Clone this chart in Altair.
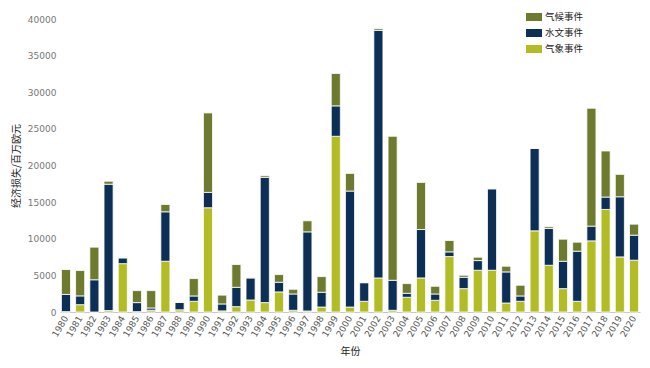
import altair as alt
import pandas as pd

years = list(range(1980, 2021))
meteo = [50, 1000, 0, 200, 6600, 50, 250, 6930, 300, 1460, 14230,
         150, 730, 1640, 1280, 2740, 230, 140, 680, 23990, 680,
         1460, 4650, 230, 2010, 4650, 1600, 7570, 3190, 5700, 5700,
         1230, 1460, 11080, 6380, 3190, 1460, 9710, 14000, 7520, 7070]
hydro = [2350, 1200, 4400, 17250, 800, 1230, 300, 6750, 1000, 730, 2100,
         950, 2640, 3010, 17100, 1320, 2230, 10800, 2010, 4150, 15830,
         2550, 33790, 4100, 540, 6610, 860, 640, 1550, 1320, 11130,
         4240, 730, 11260, 5020, 3740, 6840, 2010, 1690, 8210, 3420]
climate = [3400, 3460, 4450, 400, 0, 1640, 2370, 1000, 0, 2370, 10850,
           1200, 3110, 50, 220, 1050, 640, 1510, 2140, 4420, 2410,
           0, 230, 19660, 1330, 6430, 1050, 1550, 280, 460, 0,
           780, 1460, 0, 230, 3010, 1230, 16100, 6290, 3060, 1500]

series = ["气候事件", "水文事件", "气象事件"]
colors = ["#6e7a2e", "#0d2f56", "#b2bd25"]
stack_rank = {"气象事件": 0, "水文事件": 1, "气候事件": 2}

rows = []
for i, y in enumerate(years):
    for name, vals in (("气象事件", meteo), ("水文事件", hydro), ("气候事件", climate)):
        rows.append({"年份": str(y), "类型": name, "值": vals[i], "ord": stack_rank[name]})
df = pd.DataFrame(rows)

font = "Noto Sans CJK SC"

chart = alt.Chart(df).mark_bar(stroke="white", strokeWidth=0.8).encode(
    x=alt.X("年份:N", title="年份",
            scale=alt.Scale(paddingInner=0.36, paddingOuter=0.1),
            axis=alt.Axis(labelAngle=300, labelFontSize=9, labelColor="#555555",
                          labelFont="DejaVu Sans", ticks=False, domainColor="#c8c8c8",
                          titleFontSize=10, titleColor="#222222", titleFont=font,
                          titleFontWeight="normal", titlePadding=8, labelPadding=4)),
    y=alt.Y("值:Q", title="经济损失/百万欧元",
            scale=alt.Scale(domain=[0, 40000]),
            axis=alt.Axis(values=list(range(0, 40001, 5000)), format="d", grid=False,
                          domain=False, ticks=False, labelFontSize=9, labelColor="#777777",
                          labelFont="DejaVu Sans", titleFontSize=10, titleColor="#222222",
                          titleFont=font, titleFontWeight="normal", titlePadding=6,
                          labelPadding=4)),
    color=alt.Color("类型:N", scale=alt.Scale(domain=series, range=colors),
                    legend=alt.Legend(title=None, orient="none", legendX=466, legendY=-10,
                                      symbolType="M-1,-0.5L1,-0.5L1,0.5L-1,0.5Z",
                                      symbolSize=256, symbolStrokeWidth=0,
                                      labelFont=font, labelFontSize=9.5, labelColor="#222222",
                                      rowPadding=3, labelOffset=3, labelLimit=80)),
    order=alt.Order("ord:Q", sort="ascending"),
).properties(
    width=634, height=352,
    autosize=alt.AutoSizeParams(type="fit", contains="padding"),
    padding={"left": 3, "right": 2, "top": 7, "bottom": 3},
).configure_view(stroke=None)

chart.save("out.html", embed_options={"renderer": "svg", "actions": False})
